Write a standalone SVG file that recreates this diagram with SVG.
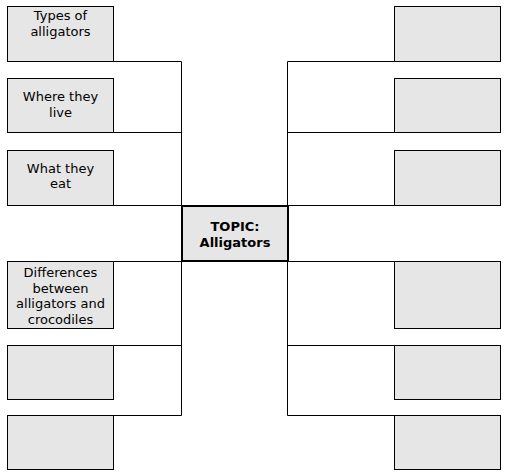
<svg xmlns="http://www.w3.org/2000/svg" width="506" height="472" viewBox="0 0 506 472">
<style>
.box{fill:#e6e6e6;stroke:#000;stroke-width:1}
.topic{fill:#e6e6e6;stroke:#000;stroke-width:2}
.ln{stroke:#000;stroke-width:1;fill:none}
text{font-family:"DejaVu Sans",Verdana,sans-serif;font-size:13px;fill:#000;text-anchor:middle}
.b{font-weight:bold}
</style>
<rect width="506" height="472" fill="#fff"/>
<g id="connectors">
<path class="ln" d="M113.5 61.5H181.5V205.5M113.5 132.5H181.5M113.5 205.5H181.5M113.5 261.5H181.5M181.5 261.5V415.5M113.5 345.5H181.5M113.5 415.5H181.5"/>
<path class="ln" d="M394.5 61.5H287.5V205.5M394.5 132.5H287.5M394.5 205.5H287.5M394.5 261.5H287.5M287.5 261.5V415.5M394.5 345.5H287.5M394.5 415.5H287.5"/>
</g>
<g id="topic">
<rect class="topic" x="182" y="206" width="106" height="55"/>
<text class="b" x="235" y="230.5">TOPIC:</text>
<text class="b" x="235" y="246.5">Alligators</text>
</g>
<g id="left1">
<rect class="box" x="7.5" y="6.5" width="106" height="55"/>
<text x="60.5" y="20">Types of</text>
<text x="60.5" y="36">alligators</text>
</g>
<g id="left2">
<rect class="box" x="7.5" y="78.5" width="106" height="54"/>
<text x="60.5" y="101">Where they</text>
<text x="60.5" y="117">live</text>
</g>
<g id="left3">
<rect class="box" x="7.5" y="150.5" width="106" height="55"/>
<text x="60.5" y="172.5">What they</text>
<text x="60.5" y="188">eat</text>
</g>
<g id="left4">
<rect class="box" x="7.5" y="261.5" width="106" height="67"/>
<text x="60.5" y="277">Differences</text>
<text x="60.5" y="292.5">between</text>
<text x="60.5" y="308">alligators and</text>
<text x="60.5" y="323.5">crocodiles</text>
</g>
<g id="left5"><rect class="box" x="7.5" y="345.5" width="106" height="54"/></g>
<g id="left6"><rect class="box" x="7.5" y="415.5" width="106" height="54"/></g>
<g id="right1"><rect class="box" x="394.5" y="6.5" width="106" height="55"/></g>
<g id="right2"><rect class="box" x="394.5" y="78.5" width="106" height="54"/></g>
<g id="right3"><rect class="box" x="394.5" y="150.5" width="106" height="55"/></g>
<g id="right4"><rect class="box" x="394.5" y="261.5" width="106" height="67"/></g>
<g id="right5"><rect class="box" x="394.5" y="345.5" width="106" height="54"/></g>
<g id="right6"><rect class="box" x="394.5" y="415.5" width="106" height="54"/></g>
</svg>
